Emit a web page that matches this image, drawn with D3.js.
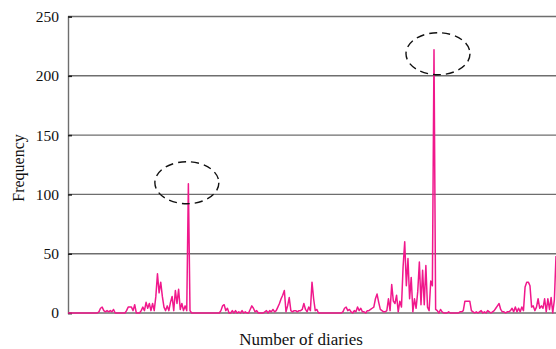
<!DOCTYPE html>
<html>
<head>
<meta charset="utf-8">
<script src="https://cdn.jsdelivr.net/npm/d3@7"></script>
<style>
  body { margin: 0; background: #fff; }
  text { font-family: "Liberation Serif", "DejaVu Serif", serif; }
</style>
</head>
<body>
<svg id="chart" width="556" height="349"></svg>
<script>
// frequency per diary index
const frequency = [
  0,0,0,0,0,0,0,0,0,0,0,0,0,0,0,0,0,0,0,1,
  4,5,2,1,2,1,2,1,3,0,0,0,0,0,0,0,2,5,5,5,
  2,7,0,0,0,2,5,2,9,4,8,2,8,2,14,33,17,26,14,5,
  2,6,2,9,14,2,19,8,20,3,8,2,6,2,109,2,0,0,0,0,
  0,0,0,0,0,0,0,0,0,0,0,0,0,0,2,6,7,2,4,0,
  0,2,0,2,0,1,0,2,0,1,0,0,3,6,4,1,2,0,0,0,
  0,1,2,0,2,1,3,1,2,5,8,12,15,19,1,6,13,2,1,2,
  2,1,2,2,3,8,3,1,5,2,26,12,2,3,0,0,0,0,0,0,
  0,0,0,0,0,0,0,0,0,1,4,5,2,3,1,0,2,1,5,2,
  4,1,1,0,2,2,3,4,5,12,16,9,3,2,1,1,2,12,2,24,
  10,8,15,1,10,5,39,60,23,46,12,30,1,12,4,18,43,7,36,7,
  40,5,2,27,23,222,3,2,0,3,1,0,0,0,1,0,0,0,0,0,
  0,1,1,2,10,10,10,10,2,1,0,1,0,1,2,0,1,0,2,1,
  0,1,2,4,6,8,3,1,1,0,1,1,2,4,1,5,1,4,1,5,
  2,22,26,26,23,5,6,2,5,12,4,6,4,12,1,12,3,13,0,11,
  48
];
const yTicks = [0, 50, 100, 150, 200, 250];
const highlighted = [74, 225]; // indices of the circled peaks

const svg = d3.select("#chart");
const mLeft = 68, mRight = 556, mTop = 16.5, mBottom = 313;
// small nudges so each dashed ring sits where it was drawn by hand
const ringShift = [{dx: -1.5, dy: -1}, {dx: 4, dy: 4}];

const x = d3.scaleLinear().domain([0, frequency.length - 1]).range([mLeft, mRight]);
const y = d3.scaleLinear().domain([0, 250]).range([mBottom, mTop]);

// gridlines
svg.append("g")
  .selectAll("line")
  .data(yTicks)
  .enter()
  .append("line")
  .attr("x1", mLeft)
  .attr("x2", mRight)
  .attr("y1", d => y(d))
  .attr("y2", d => y(d))
  .attr("stroke", "#6e6e6e")
  .attr("stroke-width", 1.4);

// y axis
const yAxis = svg.append("g")
  .attr("transform", "translate(" + mLeft + ",0)")
  .call(d3.axisLeft(y).tickValues(yTicks).tickSize(-4).tickPadding(9));
yAxis.select(".domain").attr("stroke", "#6e6e6e").attr("stroke-width", 1.4);
yAxis.selectAll(".tick line").attr("stroke", "#222").attr("stroke-width", 1.6);
yAxis.selectAll("text")
  .style("font-family", "Liberation Serif, serif")
  .style("font-size", "15.5px")
  .attr("fill", "#111");

// the series
svg.append("path")
  .datum(frequency)
  .attr("fill", "none")
  .attr("stroke", "#f0188c")
  .attr("stroke-width", 1.5)
  .attr("stroke-linejoin", "round")
  .attr("d", d3.line().x((d, i) => x(i)).y(d => y(d)));

// dashed ellipses round the two peaks
svg.append("g")
  .selectAll("ellipse")
  .data(highlighted)
  .enter()
  .append("ellipse")
  .attr("cx", (d, i) => x(d) + ringShift[i].dx)
  .attr("cy", (d, i) => y(frequency[d]) + ringShift[i].dy)
  .attr("rx", 32)
  .attr("ry", 21)
  .attr("fill", "none")
  .attr("stroke", "#111")
  .attr("stroke-width", 1.4)
  .attr("stroke-dasharray", "8,5");

// axis titles
svg.append("text")
  .attr("transform", "translate(24,168) rotate(-90)")
  .attr("text-anchor", "middle")
  .style("font-size", "16px")
  .attr("fill", "#111")
  .text("Frequency");

svg.append("text")
  .attr("x", 301)
  .attr("y", 345)
  .attr("text-anchor", "middle")
  .style("font-size", "17px")
  .attr("fill", "#111")
  .text("Number of diaries");
</script>
</body>
</html>
